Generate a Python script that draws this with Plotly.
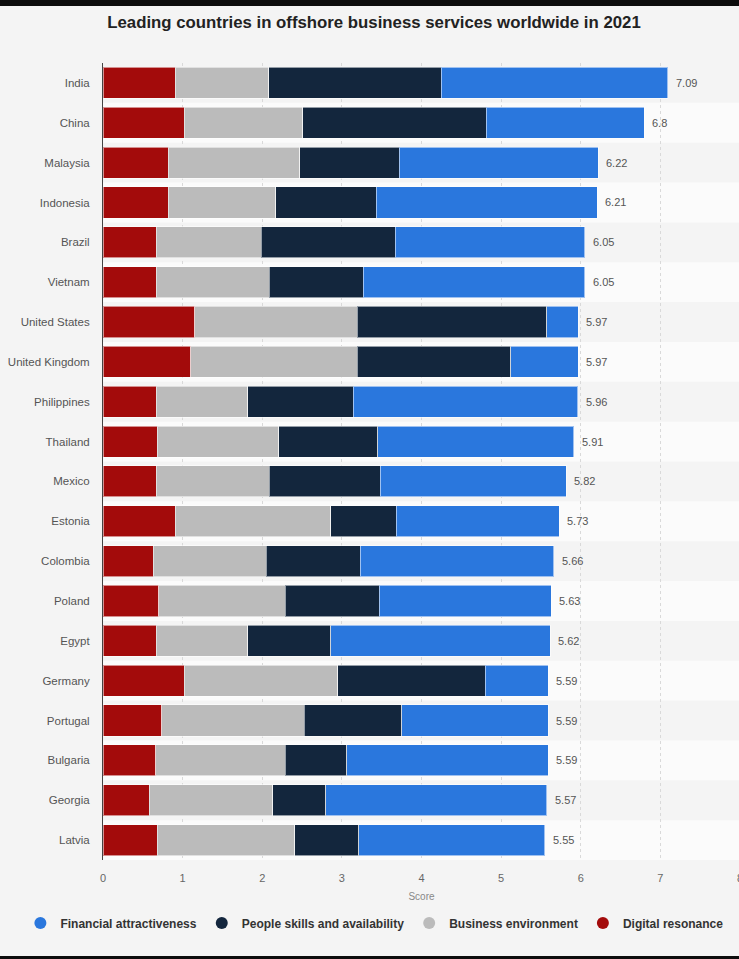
import plotly.graph_objects as go

countries = ["India", "China", "Malaysia", "Indonesia", "Brazil", "Vietnam",
             "United States", "United Kingdom", "Philippines", "Thailand",
             "Mexico", "Estonia", "Colombia", "Poland", "Egypt", "Germany",
             "Portugal", "Bulgaria", "Georgia", "Latvia"]

digital_resonance = [0.91, 1.02, 0.82, 0.82, 0.67, 0.67, 1.15, 1.10, 0.67, 0.68,
                     0.67, 0.91, 0.63, 0.70, 0.67, 1.02, 0.74, 0.66, 0.58, 0.68]
business_environment = [1.17, 1.49, 1.65, 1.35, 1.32, 1.42, 2.04, 2.09, 1.15, 1.53,
                        1.42, 1.95, 1.42, 1.59, 1.15, 1.93, 1.79, 1.63, 1.55, 1.73]
people_skills = [2.17, 2.30, 1.25, 1.26, 1.68, 1.18, 2.38, 1.93, 1.32, 1.24,
                 1.39, 0.82, 1.18, 1.18, 1.04, 1.85, 1.22, 0.77, 0.67, 0.80]
financial_attractiveness = [2.84, 1.99, 2.50, 2.78, 2.38, 2.78, 0.40, 0.85, 2.82, 2.46,
                            2.34, 2.05, 2.43, 2.16, 2.76, 0.79, 1.84, 2.53, 2.77, 2.34]
totals = [7.09, 6.8, 6.22, 6.21, 6.05, 6.05, 5.97, 5.97, 5.96, 5.91,
          5.82, 5.73, 5.66, 5.63, 5.62, 5.59, 5.59, 5.59, 5.57, 5.55]
total_labels = ["7.09", "6.8", "6.22", "6.21", "6.05", "6.05", "5.97", "5.97", "5.96", "5.91",
                "5.82", "5.73", "5.66", "5.63", "5.62", "5.59", "5.59", "5.59", "5.57", "5.55"]

x_ticks = [0, 1, 2, 3, 4, 5, 6, 7, 8]

series = [
    ("Digital resonance", digital_resonance, "#a30b0b"),
    ("Business environment", business_environment, "#bbbbbb"),
    ("People skills and availability", people_skills, "#13263d"),
    ("Financial attractiveness", financial_attractiveness, "#2a77dd"),
]

# figure is slightly wider than the 739px window; the 8 tick sits just off-screen as in the original
W, H = 743, 959
ML, MR, MT, MB = 103, 0, 63, 99
PW = W - ML - MR
PH = H - MT - MB

fig = go.Figure()
for name, vals, color in series:
    fig.add_trace(go.Bar(
        x=vals, y=countries, orientation="h", name=name,
        marker=dict(color=color, line=dict(color="rgba(255,255,255,0.55)", width=1)),
        showlegend=False,
    ))
# legend entries with circle symbols
for name, vals, color in series:
    fig.add_trace(go.Scatter(
        x=[None], y=[None], mode="markers", name="<b>" + name + "</b>",
        marker=dict(symbol="circle", size=12, color=color),
        showlegend=True,
    ))

shapes = []
for i, c in enumerate(countries):
    if i % 2 == 1:
        shapes.append(dict(type="rect", xref="paper", yref="y", x0=0, x1=1,
                           y0=i - 0.5, y1=i + 0.5, fillcolor="#fbfbfb",
                           line=dict(width=0), layer="below"))


def py(px):
    return (H - MB - px) / PH


def pxx(px):
    return (px - ML) / PW


# black strips at top and bottom of the screenshot
shapes.append(dict(type="rect", xref="paper", yref="paper", x0=pxx(-5), x1=pxx(750),
                   y0=py(6), y1=py(-3), fillcolor="#0d0d0d", line=dict(width=0)))
shapes.append(dict(type="rect", xref="paper", yref="paper", x0=pxx(-5), x1=pxx(750),
                   y0=py(962), y1=py(956), fillcolor="#0d0d0d", line=dict(width=0)))

annotations = []
for c, t, lab in zip(countries, totals, total_labels):
    annotations.append(dict(x=t, y=c, xref="x", yref="y", text=lab, showarrow=False,
                            xanchor="left", xshift=6,
                            font=dict(size=11, color="#555555", family="Liberation Sans")))

fig.update_layout(
    width=W, height=H,
    margin=dict(l=ML, r=MR, t=MT, b=MB),
    barmode="stack", bargap=0.22,
    paper_bgcolor="#f4f4f4", plot_bgcolor="#f4f4f4",
    font=dict(family="Liberation Sans", color="#555555"),
    title=dict(text="<b>Leading countries in offshore business services worldwide in 2021</b>",
               x=374 / W, xref="container", xanchor="center",
               y=1 - 22 / H, yref="container", yanchor="middle",
               font=dict(size=16.8, color="#222222", family="Liberation Sans")),
    xaxis=dict(range=[0, 8], tickvals=x_ticks, showgrid=True, gridcolor="#d9d9d9",
               griddash="dot", gridwidth=1, zeroline=False, showline=False,
               ticks="outside", ticklen=8, tickcolor="rgba(0,0,0,0)",
               ticklabeloverflow="allow",
               tickfont=dict(size=11, color="#666666"),
               title=dict(text="Score", font=dict(size=10, color="#888888"), standoff=9),
               fixedrange=True),
    yaxis=dict(categoryorder="array", categoryarray=countries, autorange="reversed",
               showline=True, linecolor="#444444", linewidth=1, showgrid=False,
               ticks="outside", ticklen=10, tickcolor="rgba(0,0,0,0)",
               tickfont=dict(size=11.5, color="#555555")),
    legend=dict(orientation="h", xref="paper", yref="paper",
                x=pxx(20), xanchor="left", y=py(923), yanchor="middle",
                font=dict(size=12, color="#333333"), itemsizing="constant",
                bgcolor="rgba(0,0,0,0)"),
    shapes=shapes,
    annotations=annotations,
)

fig.write_html("out.html", config={"displayModeBar": False},
               post_script="document.body.style.margin='0';document.body.style.overflow='hidden';")
